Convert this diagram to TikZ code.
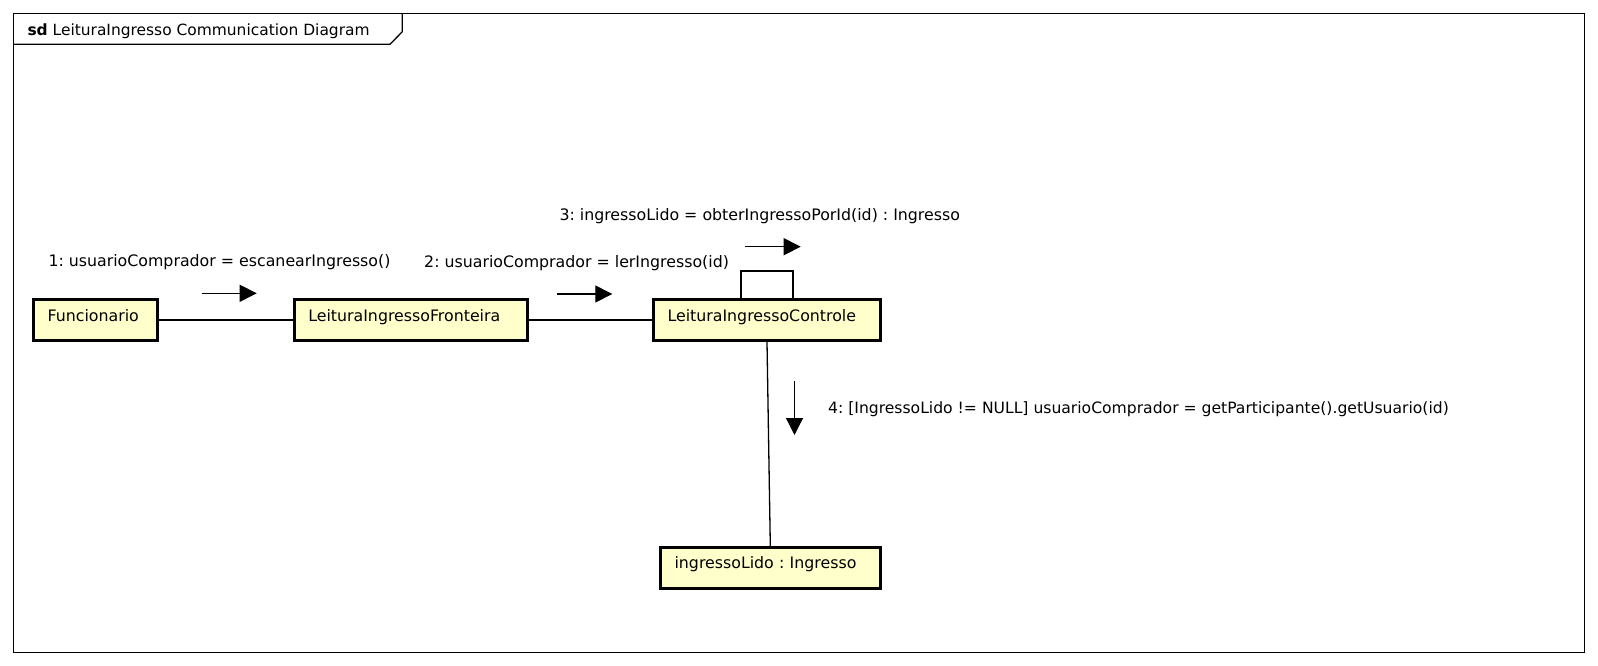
\documentclass[tikz,border=0pt]{standalone}
\usepackage{fontspec}
\setmainfont{DejaVu Sans}
\usetikzlibrary{arrows.meta}
\definecolor{objfill}{HTML}{FFFFCC}
\begin{document}
\frenchspacing
\begin{tikzpicture}[x=1pt,y=-1pt,
  every node/.style={font=\fontsize{15.8}{18}\selectfont},
  obj/.style={draw, line width=3pt, fill=objfill, minimum height=41pt,
    inner xsep=14pt, inner ysep=0pt, align=left, text height=12pt, text depth=10pt},
  link/.style={line width=1.3pt},
  msg/.style={line width=1.3pt, -{Triangle[length=17pt,width=17pt]}},
  lbl/.style={anchor=base west, inner sep=0pt}]
\useasboundingbox (0,0) rectangle (1598,666);

% diagram frame with its name tab
\draw[line width=1.3pt] (13.3,13.3) rectangle (1584.5,652.5);
\draw[line width=1.3pt] (13.3,44.3) -- (390,44.3) -- (402.3,31.7) -- (402.3,13.3);
\node[lbl, font=\fontsize{15.45}{18}\selectfont] (title) at (27.3,35.7)
  {\textbf{sd} LeituraIngresso Communication Diagram};

% lifelines
\node[obj, text width=95.5pt] (fun) at (95.3,320) {Funcionario};
\node[obj, text width=205pt] (fro) at (410.8,320) {LeituraIngressoFronteira};
\node[obj, text width=199pt] (con) at (767,320) {LeituraIngressoControle};
\node[obj, text width=191.5pt] (ing) at (770.3,567.8) {ingressoLido : Ingresso};

% links
\draw[link] (fun.east) -- (fro.west);
\draw[link] (fro.east) -- (con.west);
\draw[link] ([xshift=-26pt]con.north) -- ++(0,27pt) -| ([xshift=26pt]con.north);
\draw[link] (con.south) -- (ing.north);

% messages
\coordinate (m1a) at (201.7,293.3);
\coordinate (m1b) at (256.7,293.3);
\coordinate (m2a) at (556.7,294);
\coordinate (m2b) at (612.3,294);
\coordinate (m3a) at (745,246.7);
\coordinate (m3b) at (800.7,246.7);
\coordinate (m4a) at (794.5,381);
\coordinate (m4b) at (794.5,435);
\draw[msg] (m1a) -- (m1b);
\draw[msg] (m2a) -- (m2b);
\draw[msg] (m3a) -- (m3b);
\draw[msg] (m4a) -- (m4b);

\node[lbl] (t1) at (48.3,266.5) {1: usuarioComprador = escanearIngresso()};
\node[lbl] (t2) at (424,267) {2: usuarioComprador = lerIngresso(id)};
\node[lbl] (t3) at (559.3,220) {3: ingressoLido = obterIngressoPorId(id) : Ingresso};
\node[lbl, font=\fontsize{15.6}{18}\selectfont] (t4) at (828,413)
  {4: [IngressoLido != NULL] usuarioComprador = getParticipante().getUsuario(id)};
\end{tikzpicture}
\end{document}
